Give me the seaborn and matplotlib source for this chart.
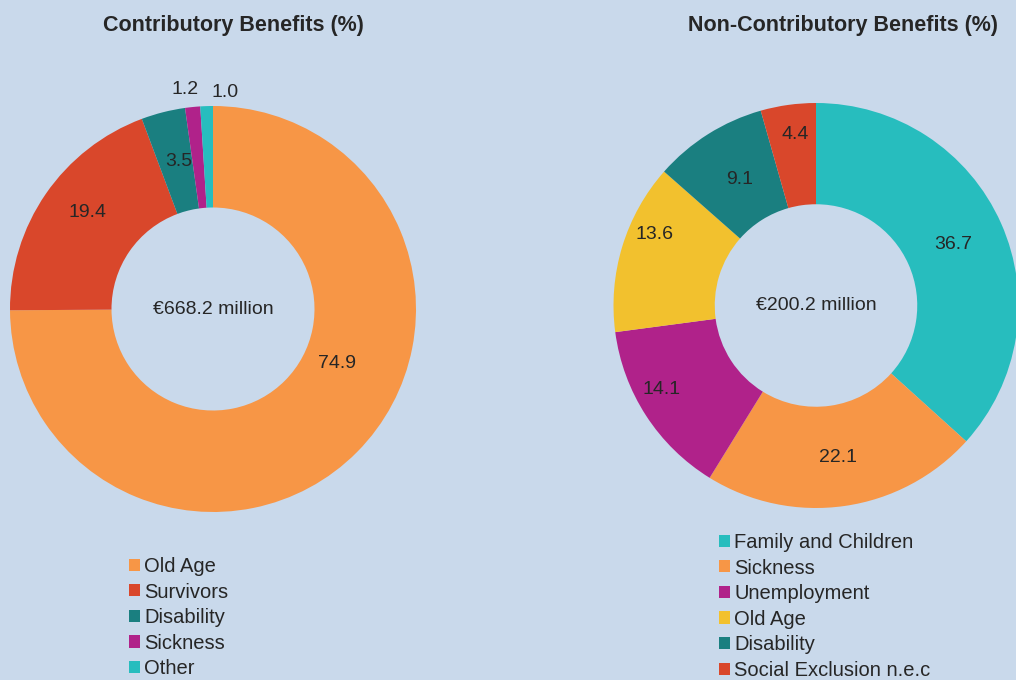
import numpy as np
import matplotlib
matplotlib.use("Agg")
import matplotlib.pyplot as plt
import seaborn as sns

# ---- data ----
contrib_labels = ["Old Age", "Survivors", "Disability", "Sickness", "Other"]
contrib_values = [74.9, 19.4, 3.5, 1.2, 1.0]
contrib_total = "€668.2 million"

noncontrib_labels = ["Family and Children", "Sickness", "Unemployment", "Old Age",
                     "Disability", "Social Exclusion n.e.c"]
noncontrib_values = [36.7, 22.1, 14.1, 13.6, 9.1, 4.4]
noncontrib_total = "€200.2 million"

# ---- style ----
BG = "#C9D9EB"
TXT = "#262626"
col = {
    "orange": "#F79646", "red": "#D9472B", "teal": "#1A7F80",
    "magenta": "#B0228A", "cyan": "#27BDBE", "yellow": "#F2C12E",
}
contrib_colors = sns.color_palette([col["orange"], col["red"], col["teal"], col["magenta"], col["cyan"]])
noncontrib_colors = sns.color_palette([col["cyan"], col["orange"], col["magenta"], col["yellow"], col["teal"], col["red"]])

# label placement (radius fraction, angle nudge in degrees)
contrib_lab_r = [0.67, 0.78, 0.745, 1.09, 1.07]
contrib_lab_nudge = [21, -3, -1, 1.5, -5]
noncontrib_lab_r = [0.74, 0.76, 0.87, 0.87, 0.73, 0.85]
noncontrib_lab_nudge = [0, 0, -4.5, -7, -1, -1]

sns.set_theme(style="white")
plt.rcParams["font.family"] = ["Liberation Sans", "DejaVu Sans"]

fig = plt.figure(figsize=(10.16, 6.8), dpi=100)
fig.patch.set_facecolor(BG)


def donut(rect, values, colors, total, lab_r, lab_nudge):
    ax = fig.add_axes(rect)
    ax.set_facecolor(BG)
    wedges, _ = ax.pie(values, colors=colors, startangle=90, counterclock=False,
                       radius=1.0, wedgeprops=dict(width=0.5, linewidth=0))
    ax.set_xlim(-1, 1)
    ax.set_ylim(-1, 1)
    ax.set_aspect("equal")
    ax.axis("off")
    for w, v, r, nd in zip(wedges, values, lab_r, lab_nudge):
        ang = np.deg2rad((w.theta1 + w.theta2) / 2 + nd)
        ax.text(r * np.cos(ang), r * np.sin(ang), f"{v:.1f}", ha="center", va="center",
                fontsize=14, color=TXT, clip_on=False)
    ax.text(0, 0, total, ha="center", va="center", fontsize=14, color=TXT)
    return ax, wedges


axL, wL = donut([10 / 1016, 168 / 680, 406 / 1016, 406 / 680], contrib_values,
                contrib_colors, contrib_total, contrib_lab_r, contrib_lab_nudge)
axR, wR = donut([613.5 / 1016, 172 / 680, 405 / 1016, 405 / 680], noncontrib_values,
                noncontrib_colors, noncontrib_total, noncontrib_lab_r, noncontrib_lab_nudge)

title_font = ["Liberation Sans Narrow", "Liberation Sans", "DejaVu Sans"]
fig.text(233 / 1016, 1 - 25 / 680, "Contributory Benefits (%)", ha="center", va="center",
         fontsize=15.5, fontweight="bold", color=TXT, family=title_font)
fig.text(843 / 1016, 1 - 25 / 680, "Non-Contributory Benefits (%)", ha="center", va="center",
         fontsize=15.5, fontweight="bold", color=TXT, family=title_font)

leg_kw = dict(frameon=False, fontsize=14.5, handlelength=0.55, handleheight=0.55,
              handletextpad=0.2, labelspacing=0.325, borderaxespad=0, borderpad=0,
              labelcolor=TXT, bbox_transform=fig.transFigure, loc="upper left")
fig.legend(wL, contrib_labels, bbox_to_anchor=(129 / 1016, 1 - 557 / 680), **leg_kw)
fig.legend(wR, noncontrib_labels, bbox_to_anchor=(719 / 1016, 1 - 533 / 680), **leg_kw)

fig.savefig("out.png", dpi=100, facecolor=BG)
